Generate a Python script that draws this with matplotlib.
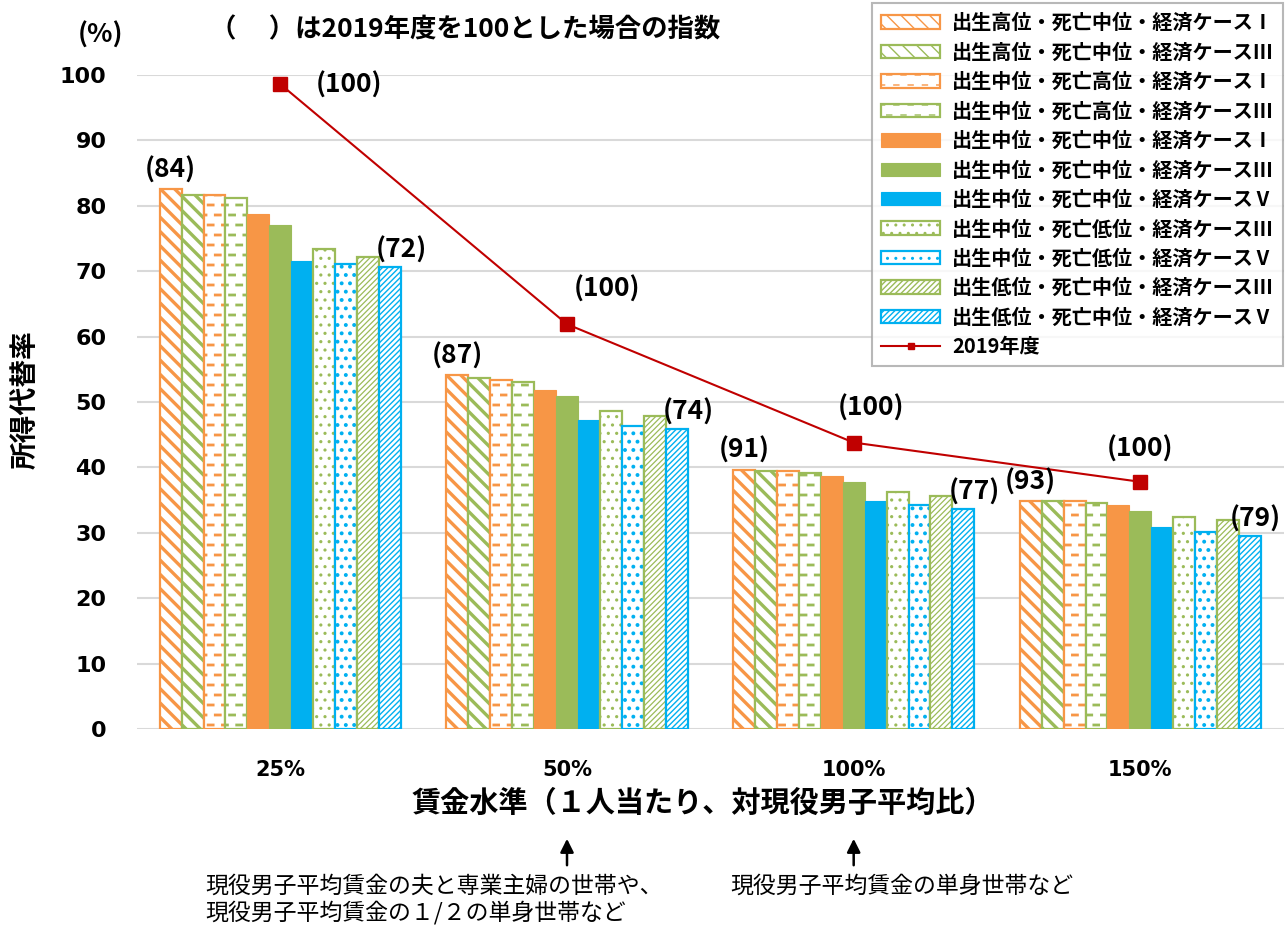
import warnings
import numpy as np
import matplotlib
matplotlib.use("Agg")
import matplotlib.pyplot as plt
from matplotlib import hatch as mhatch
from matplotlib.path import Path
from matplotlib.lines import Line2D
from matplotlib.transforms import blended_transform_factory

warnings.filterwarnings("ignore")

plt.rcParams['font.family'] = ['Noto Sans CJK JP', 'DejaVu Sans']

# ---- data -------------------------------------------------------------
wage_levels = ['25%', '50%', '100%', '150%']
series_names = [
    '出生高位・死亡中位・経済ケースⅠ',
    '出生高位・死亡中位・経済ケースⅢ',
    '出生中位・死亡高位・経済ケースⅠ',
    '出生中位・死亡高位・経済ケースⅢ',
    '出生中位・死亡中位・経済ケースⅠ',
    '出生中位・死亡中位・経済ケースⅢ',
    '出生中位・死亡中位・経済ケースⅤ',
    '出生中位・死亡低位・経済ケースⅢ',
    '出生中位・死亡低位・経済ケースⅤ',
    '出生低位・死亡中位・経済ケースⅢ',
    '出生低位・死亡中位・経済ケースⅤ',
]
# replacement rate (%) per series, for 25% / 50% / 100% / 150%
rate_high_birth_I = [82.5, 54.1, 39.6, 34.8]
rate_high_birth_III = [81.7, 53.6, 39.4, 34.8]
rate_high_death_I = [81.7, 53.4, 39.4, 34.8]
rate_high_death_III = [81.2, 53.1, 39.2, 34.5]
rate_mid_I = [78.7, 51.9, 38.7, 34.3]
rate_mid_III = [77.1, 50.9, 37.7, 33.3]
rate_mid_V = [71.6, 47.3, 34.8, 30.9]
rate_low_death_III = [73.4, 48.7, 36.3, 32.4]
rate_low_death_V = [71.1, 46.4, 34.2, 30.1]
rate_low_birth_III = [72.1, 47.9, 35.7, 31.9]
rate_low_birth_V = [70.6, 45.9, 33.6, 29.5]
series_values = [rate_high_birth_I, rate_high_birth_III, rate_high_death_I,
                 rate_high_death_III, rate_mid_I, rate_mid_III, rate_mid_V,
                 rate_low_death_III, rate_low_death_V, rate_low_birth_III,
                 rate_low_birth_V]

rate_2019 = [98.6, 61.9, 43.8, 37.8]
index_2019 = [100, 100, 100, 100]
index_first = [84, 87, 91, 93]   # index of the first bar in each group
index_last = [72, 74, 77, 79]    # index of the last bar in each group

# ---- colours / styles --------------------------------------------------
ORANGE = '#F79646'
GREEN = '#9BBB59'
BLUE = '#00B0F0'
RED = '#C00000'


class WideDiagonal(mhatch.HatchPatternBase):
    """'\\' lines, spacing between '\\\\' and '\\\\\\'."""
    def __init__(self, hatch, density):
        self.num_lines = int(hatch.count('w') * 14)
        self.num_vertices = (self.num_lines + 1) * 2 if self.num_lines else 0

    def set_vertices_and_codes(self, vertices, codes):
        steps = np.linspace(-0.5, 0.5, self.num_lines + 1)
        vertices[0::2, 0] = 0.0 + steps
        vertices[0::2, 1] = 1.0 + steps
        vertices[1::2, 0] = 1.0 + steps
        vertices[1::2, 1] = 0.0 + steps
        codes[0::2] = Path.MOVETO
        codes[1::2] = Path.LINETO


class DashRows(mhatch.HatchPatternBase):
    """Staggered rows of short horizontal dashes."""
    per_row = 7

    def __init__(self, hatch, density):
        self.num_rows = int(hatch.count('=') * 10)
        self.num_vertices = self.num_rows * self.per_row * 2 if self.num_rows else 0

    def set_vertices_and_codes(self, vertices, codes):
        k = 0
        for r in range(self.num_rows):
            y = (r + 0.5) / self.num_rows
            shift = 0.5 / self.per_row if r % 2 else 0.0
            for c in range(self.per_row):
                x0 = c / self.per_row + shift + 0.01
                vertices[k] = (x0, y)
                vertices[k + 1] = (x0 + 0.05, y)
                codes[k] = Path.MOVETO
                codes[k + 1] = Path.LINETO
                k += 2


mhatch._hatch_types.append(WideDiagonal)
mhatch._hatch_types.append(DashRows)

bar_styles = [
    dict(fc='white', ec=ORANGE, hatch='w', hlw=2.4),
    dict(fc='white', ec=GREEN, hatch='w', hlw=2.4),
    dict(fc='white', ec=ORANGE, hatch='=', hlw=2.0),
    dict(fc='white', ec=GREEN, hatch='=', hlw=2.0),
    dict(fc=ORANGE, ec=ORANGE, hatch=None, hlw=1.0),
    dict(fc=GREEN, ec=GREEN, hatch=None, hlw=1.0),
    dict(fc=BLUE, ec=BLUE, hatch=None, hlw=1.0),
    dict(fc='white', ec=GREEN, hatch='..', hlw=1.1),
    dict(fc='white', ec=BLUE, hatch='..', hlw=1.6),
    dict(fc='white', ec=GREEN, hatch='//////', hlw=0.9),
    dict(fc='white', ec=BLUE, hatch='//////', hlw=1.0),
]

# ---- figure -----------------------------------------------------------
fig = plt.figure(figsize=(12.85, 9.26), dpi=100)
ax = fig.add_axes([0.1066, 0.2127, 0.8924, 0.7063])

x = np.arange(len(wage_levels))
n = len(series_values)
w = 0.0765
offsets = (np.arange(n) - (n - 1) / 2) * w

handles = []
for vals, name, off, st in zip(series_values, series_names, offsets, bar_styles):
    with plt.rc_context({'hatch.linewidth': st['hlw']}):
        bars = ax.bar(x + off, vals, width=w, facecolor=st['fc'], edgecolor=st['ec'],
                      linewidth=1.6 if st['hatch'] else 0.8, hatch=st['hatch'],
                      label=name, zorder=3)
        for b in bars:
            if hasattr(b, 'set_hatch_linewidth'):
                b.set_hatch_linewidth(st['hlw'])
    handles.append(bars)

ax.plot(x, rate_2019, color=RED, lw=1.5, marker='s', markersize=10, zorder=4)
handles.append(Line2D([], [], color=RED, lw=1.5, marker='s', markersize=5))
labels = series_names + ['2019年度']

# index labels
lab_font = dict(fontsize=19, fontweight='bold', color='black')
last_dx = [0.04, 0.04, 0.04, 0.02]
for i in range(len(wage_levels)):
    ax.text(x[i] + offsets[0], series_values[0][i] + 0.9, f'({index_first[i]})',
            ha='center', va='bottom', zorder=5, **lab_font)
    ax.text(x[i] + offsets[-1] + last_dx[i], series_values[-1][i] + 0.5,
            f'({index_last[i]})', ha='center', va='bottom', zorder=5, **lab_font)

line_label_offsets = [(0.24, -0.2), (0.14, 5.3), (0.06, 5.2), (0.0, 5.0)]
for i, (dx, dy) in enumerate(line_label_offsets):
    ax.text(x[i] + dx, rate_2019[i] + dy, f'({index_2019[i]})',
            ha='center', va='center', zorder=5, **lab_font)

ax.set_xlim(-0.5, len(wage_levels) - 0.5)
ax.set_ylim(0, 100)
ax.set_yticks(np.arange(0, 101, 10))
ax.set_xticks(x)
ax.set_xticklabels(wage_levels, fontsize=15, fontweight='bold', family='DejaVu Sans')
for t in ax.get_yticklabels():
    t.set_fontsize(16)
    t.set_fontweight('bold')
    t.set_family('DejaVu Sans')
ax.tick_params(length=0)
ax.tick_params(axis='y', pad=22)
ax.tick_params(axis='x', pad=22)
ax.grid(axis='y', color='#D9D9D9', lw=1.5, zorder=0)
for s in ax.spines.values():
    s.set_visible(False)

leg = fig.legend(handles, labels, loc='upper right',
                 bbox_to_anchor=(1283 / 1285, 1 - 3 / 926),
                 prop=dict(size=14.5, weight='bold'), frameon=True, fancybox=False,
                 edgecolor='#A6A6A6', handlelength=2.9, handleheight=0.65,
                 labelspacing=0.42, borderpad=0.45, handletextpad=0.6,
                 borderaxespad=0)
leg.get_frame().set_linewidth(1.5)

# texts around the plot
fig.text(100 / 1285, 1 - 35 / 926, '(%)', fontsize=19, fontweight='bold',
         ha='center', va='center')
fig.text(210 / 1285, 1 - 30 / 926, '（　 ）は2019年度を100とした場合の指数',
         fontsize=19, fontweight='bold', ha='left', va='center')
fig.text(25 / 1285, 1 - 400 / 926, '所得代替率', fontsize=20, fontweight='bold',
         rotation=90, ha='center', va='center')
fig.text(703 / 1285, 1 - 803 / 926, '賃金水準（１人当たり、対現役男子平均比）',
         fontsize=21, fontweight='bold', ha='center', va='center')

# arrows + notes
trans = blended_transform_factory(ax.transData, fig.transFigure)
for xi in (1, 2):
    ax.annotate('', xy=(x[xi], 1 - 836 / 926), xytext=(x[xi], 1 - 868 / 926),
                xycoords=trans, textcoords=trans,
                arrowprops=dict(arrowstyle='-|>', color='black', lw=1.8,
                                mutation_scale=20), annotation_clip=False)
note_font = dict(fontsize=16.5, ha='left', va='center')
fig.text(205 / 1285, 1 - 886 / 926, '現役男子平均賃金の夫と専業主婦の世帯や、', **note_font)
fig.text(205 / 1285, 1 - 913 / 926, '現役男子平均賃金の１/２の単身世帯など', **note_font)
fig.text(730 / 1285, 1 - 886 / 926, '現役男子平均賃金の単身世帯など', **note_font)

fig.savefig('out.png', dpi=100, facecolor='white')
